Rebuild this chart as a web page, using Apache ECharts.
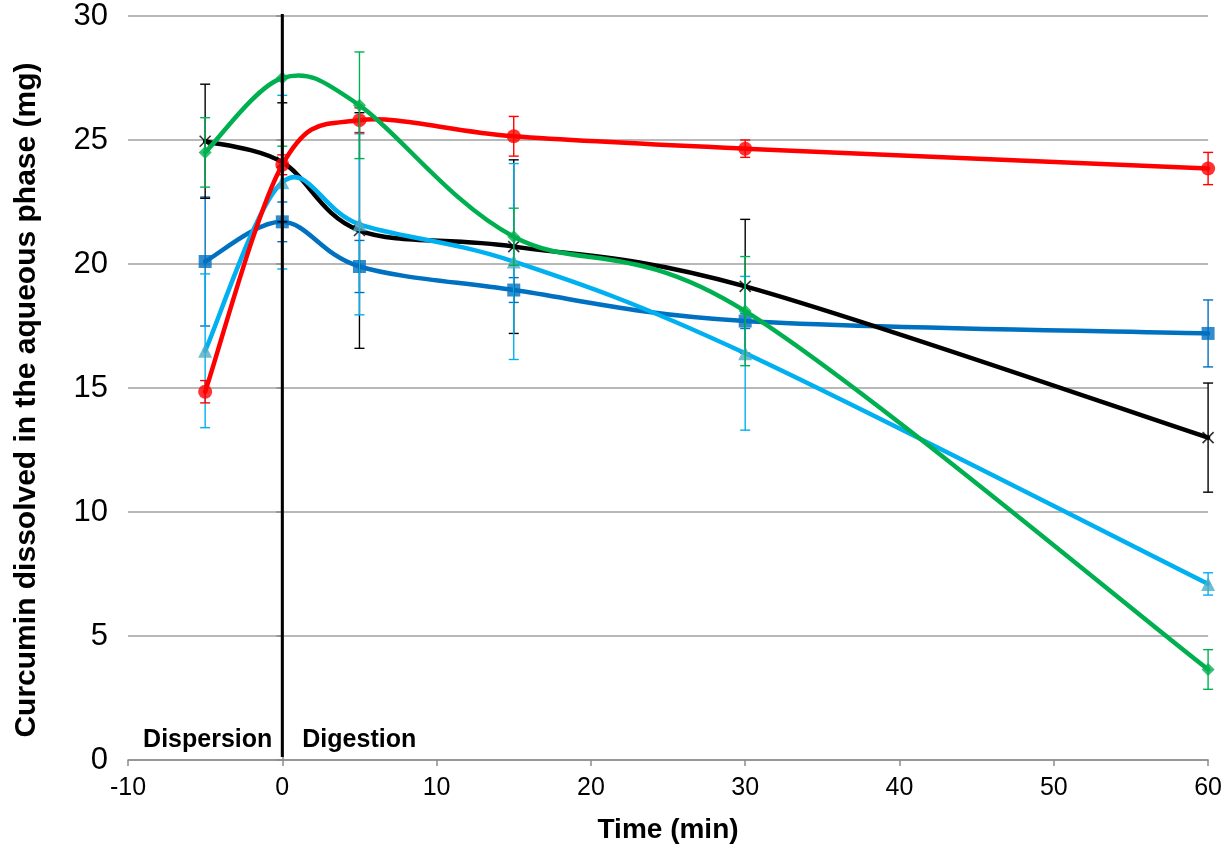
<!DOCTYPE html>
<html>
<head>
<meta charset="utf-8">
<script src="https://cdn.jsdelivr.net/npm/echarts@6/dist/echarts.min.js"></script>
<style>
html,body{margin:0;padding:0;background:#fff;}
#chart{width:1225px;height:851px;}
</style>
</head>
<body>
<div id="chart"></div>
<script>
// ---- data ----
var times = [-5, 0, 5, 15, 30, 60];
var redVals = [14.85, 24.0, 25.8, 25.15, 24.65, 23.85];
var redErr = [0.45, 0.4, 0.5, 0.8, 0.35, 0.65];
var greenVals = [24.5, 27.5, 26.4, 21.1, 18.1, 3.65];
var greenErr = [1.4, 2.75, 2.15, 1.15, 2.2, 0.8];
var blackVals = [24.95, 24.1, 21.35, 20.7, 19.1, 13.0];
var blackErr = [2.3, 2.4, 4.75, 3.5, 2.7, 2.2];
var darkBlueVals = [20.1, 21.7, 19.9, 18.95, 17.7, 17.2];
var darkBlueErr = [2.6, 0.8, 1.05, 0.5, 0.3, 1.35];
var lightBlueVals = [16.5, 23.3, 21.6, 20.1, 16.4, 7.1];
var lightBlueErr = [3.1, 3.5, 3.65, 3.95, 3.1, 0.45];
var phaseBoundary = [0];
var phaseLabels = ['Dispersion', 'Digestion'];
var xTitle = 'Time (min)';
var yTitle = 'Curcumin dissolved in the aqueous phase (mg)';

var chart = echarts.init(document.getElementById('chart'), null, {renderer: 'canvas'});
var FONT = '"Liberation Sans", Arial, sans-serif';

function pts(vals) { return times.map(function (t, i) { return [t, vals[i]]; }); }
function errData(vals, errs) { return times.map(function (t, i) { return [t, vals[i] - errs[i], vals[i] + errs[i]]; }); }

function errSeries(vals, errs, color, z) {
  return {
    type: 'custom', z: z, clip: false, silent: true,
    data: errData(vals, errs),
    renderItem: function (params, api) {
      var cs = params.coordSys;
      var x = api.value(0);
      var lo = api.coord([x, api.value(1)]);
      var hi = api.coord([x, api.value(2)]);
      var w = 5;
      var st = {stroke: color, lineWidth: 1.4};
      var top = cs.y, bottom = cs.y + cs.height;
      var kids = [];
      var y1 = Math.min(lo[1], bottom), y2 = Math.max(hi[1], top);
      kids.push({type: 'line', shape: {x1: lo[0], y1: y1, x2: hi[0], y2: y2}, style: st});
      if (lo[1] <= bottom) kids.push({type: 'line', shape: {x1: lo[0] - w, y1: lo[1], x2: lo[0] + w, y2: lo[1]}, style: st});
      if (hi[1] >= top) kids.push({type: 'line', shape: {x1: hi[0] - w, y1: hi[1], x2: hi[0] + w, y2: hi[1]}, style: st});
      return {type: 'group', children: kids};
    }
  };
}

// smoothed curve (cardinal spline through the data points, as in spreadsheet "smoothed line")
function curveSeries(vals, color, z) {
  return {
    type: 'custom', z: z, clip: false, silent: true,
    data: pts(vals),
    renderItem: function (params, api) {
      if (params.dataIndex !== 0) return null;
      var p = times.map(function (t, i) { return api.coord([t, vals[i]]); });
      var n = p.length;
      var d = 'M' + p[0][0] + ' ' + p[0][1];
      for (var i = 0; i < n - 1; i++) {
        var p0 = p[Math.max(i - 1, 0)], p1 = p[i], p2 = p[i + 1], p3 = p[Math.min(i + 2, n - 1)];
        var c1x = p1[0] + (p2[0] - p0[0]) / 6, c1y = p1[1] + (p2[1] - p0[1]) / 6;
        var c2x = p2[0] - (p3[0] - p1[0]) / 6, c2y = p2[1] - (p3[1] - p1[1]) / 6;
        d += ' C' + c1x + ' ' + c1y + ' ' + c2x + ' ' + c2y + ' ' + p2[0] + ' ' + p2[1];
      }
      return {type: 'path', shape: {pathData: d}, style: {stroke: color, lineWidth: 4.5, fill: 'none', lineJoin: 'round', lineCap: 'round'}};
    }
  };
}

function markerSeries(vals, symbol, size, z, itemStyle) {
  return {
    type: 'scatter', z: z, silent: true,
    data: pts(vals),
    symbol: symbol, symbolSize: size,
    itemStyle: itemStyle,
    emphasis: {disabled: true},
    animation: false
  };
}

var crossPath = 'path://M0,0L10,10M10,0L0,10';

var option = {
  animation: false,
  grid: {left: 128, right: 16, top: 16, bottom: 91, containLabel: false},
  xAxis: {
    type: 'value', min: -10, max: 60, interval: 10,
    name: xTitle, nameLocation: 'middle', nameGap: 56,
    nameTextStyle: {fontFamily: FONT, fontWeight: 'bold', fontSize: 28, color: '#000'},
    axisLine: {show: true, onZero: false, lineStyle: {color: '#8c8c8c', width: 1.5}},
    axisTick: {show: true, length: 6, lineStyle: {color: '#8c8c8c', width: 1.5}},
    axisLabel: {fontFamily: FONT, fontSize: 25, color: '#000', margin: 16},
    splitLine: {show: false}
  },
  yAxis: {
    type: 'value', min: 0, max: 30, interval: 5,
    name: yTitle, nameLocation: 'middle', nameGap: 86, nameRotate: 90,
    nameTextStyle: {fontFamily: FONT, fontWeight: 'bold', fontSize: 30, color: '#000', padding: [0, 24, 0, 0]},
    axisLine: {show: true, lineStyle: {color: '#8c8c8c', width: 1.5}},
    axisTick: {show: true, length: 6, lineStyle: {color: '#8c8c8c', width: 1.5}},
    axisLabel: {fontFamily: FONT, fontSize: 31, color: '#000', margin: 20},
    splitLine: {show: true, lineStyle: {color: '#a0a0a0', width: 1.5}}
  },
  series: [
    errSeries(darkBlueVals, darkBlueErr, '#0070C0', 2),
    curveSeries(darkBlueVals, '#0070C0', 2),
    markerSeries(darkBlueVals, 'rect', 13, 2, {color: '#0070C0'}),

    errSeries(blackVals, blackErr, '#000000', 3),
    curveSeries(blackVals, '#000000', 3),
    markerSeries(blackVals, crossPath, 11, 3, {color: 'none', borderColor: '#000', borderWidth: 1.6}),

    errSeries(lightBlueVals, lightBlueErr, '#00B0F0', 4),
    curveSeries(lightBlueVals, '#00B0F0', 4),
    markerSeries(lightBlueVals, 'triangle', 14, 4, {color: '#4BACC6'}),

    errSeries(redVals, redErr, '#FF0000', 5),
    curveSeries(redVals, '#FF0000', 5),
    markerSeries(redVals, 'circle', 14, 5, {color: '#FF0000'}),

    errSeries(greenVals, greenErr, '#00B050', 6),
    curveSeries(greenVals, '#00B050', 6),
    markerSeries(greenVals, 'diamond', 13, 6, {color: '#00B050'}),

    {
      // phase boundary: vertical line across the plot
      type: 'custom', z: 10, clip: false, silent: true,
      data: phaseBoundary.map(function (v) { return [v]; }),
      renderItem: function (params, api) {
        var cs = params.coordSys;
        var x = api.coord([api.value(0), 0])[0];
        return {type: 'line', shape: {x1: x, y1: cs.y - 2, x2: x, y2: cs.y + cs.height - 3},
          style: {stroke: '#000', lineWidth: 3}};
      }
    }
  ],
  graphic: []
};
chart.setOption(option);

// phase labels anchored at the boundary
var base = chart.convertToPixel({gridIndex: 0}, [phaseBoundary[0], 0]);
chart.setOption({graphic: [
  {type: 'text', x: base[0] - 10, y: base[1] - 20, style: {text: phaseLabels[0], font: 'bold 25px ' + FONT, fill: '#000', textAlign: 'right', textVerticalAlign: 'middle'}},
  {type: 'text', x: base[0] + 20, y: base[1] - 20, style: {text: phaseLabels[1], font: 'bold 25px ' + FONT, fill: '#000', textAlign: 'left', textVerticalAlign: 'middle'}}
]});
</script>
</body>
</html>
